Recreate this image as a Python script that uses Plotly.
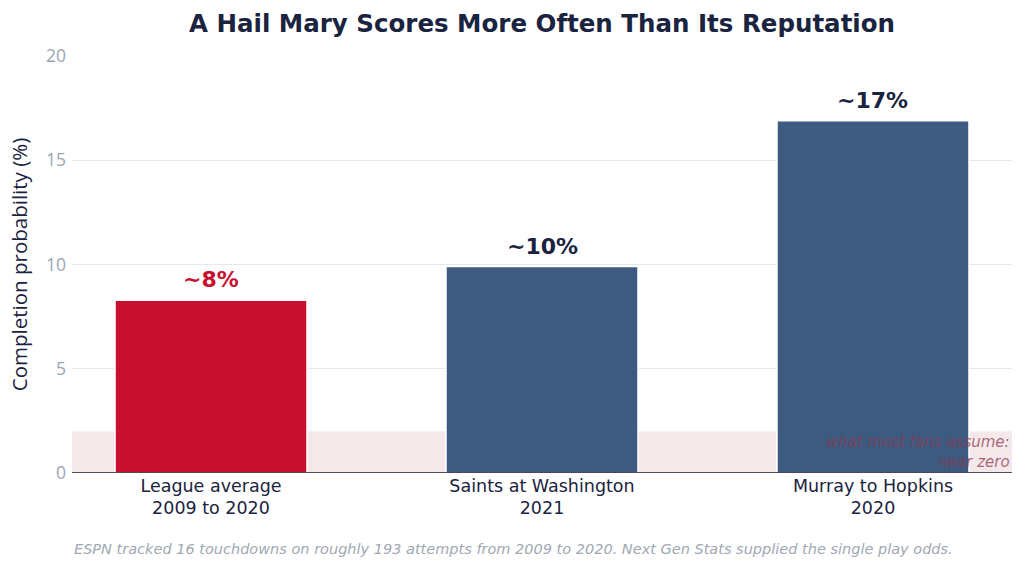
import plotly.graph_objects as go

categories = ["League average<br>2009 to 2020", "Saints at Washington<br>2021", "Murray to Hopkins<br>2020"]
values = [8.29, 9.9, 16.9]
labels = ["~8%", "~10%", "~17%"]
bar_colors = ["#c8102e", "#3d5a80", "#3d5a80"]
label_colors = ["#c8102e", "#1a2340", "#1a2340"]
band_top = 2
y_ticks = [0, 5, 10, 15, 20]

fig = go.Figure()
fig.add_trace(go.Bar(
    x=categories, y=values,
    marker=dict(color=bar_colors, line=dict(color="white", width=1.5)),
    cliponaxis=False, width=0.58,
))

for cat, val, lab, col in zip(categories, values, labels, label_colors):
    fig.add_annotation(x=cat, y=val, text=f"<b>{lab}</b>", showarrow=False,
                       xanchor="center", yanchor="bottom", yshift=6,
                       font=dict(family="DejaVu Sans", size=22, color=col))

fig.add_shape(type="rect", xref="paper", yref="y", x0=0, x1=1, y0=0, y1=band_top,
              fillcolor="#f5e8eb", line=dict(width=0), layer="below")
fig.add_shape(type="line", xref="paper", yref="y", x0=0, x1=1, y0=0, y1=0,
              line=dict(color="#1a1a2e", width=1.5))

fig.add_annotation(xref="paper", yref="y", x=1, y=1.0, xanchor="right", yanchor="middle",
                   text="what most fans assume:<br>near zero", showarrow=False, align="right",
                   font=dict(family="DejaVu Sans", size=15, color="rgba(139,58,80,0.75)", style="italic"))

fig.add_annotation(xref="paper", yref="paper", x=0, y=0, yshift=-76, xanchor="left", yanchor="middle",
                   text="ESPN tracked 16 touchdowns on roughly 193 attempts from 2009 to 2020. Next Gen Stats supplied the single play odds.",
                   showarrow=False,
                   font=dict(family="DejaVu Sans", size=14.5, color="#a0a8b4", style="italic"))

fig.update_layout(
    width=1024, height=569,
    margin=dict(l=72, r=12, t=56, b=96),
    paper_bgcolor="white", plot_bgcolor="white",
    showlegend=False,
    title=dict(text="<b>A Hail Mary Scores More Often Than Its Reputation</b>",
               x=0.5, xref="paper", xanchor="center", y=0.958, yanchor="middle",
               font=dict(family="DejaVu Sans", size=24.5, color="#1a2340")),
    xaxis=dict(range=[-0.42, 2.42], showgrid=False, zeroline=False, showline=False,
               tickfont=dict(family="DejaVu Sans", size=17.5, color="#1a2340"), ticks=""),
    yaxis=dict(range=[0, 20], tickvals=y_ticks, showgrid=True, gridcolor="#e4e7eb", gridwidth=1,
               zeroline=False, showline=False, ticklabelstandoff=5,
               tickfont=dict(family="Open Sans", size=17.5, color="#9aa5b4"),
               title=dict(text="Completion probability (%)", font=dict(family="Open Sans", size=20.5, color="#1a2340"), standoff=12)),
)

fig.write_html("out.html")
